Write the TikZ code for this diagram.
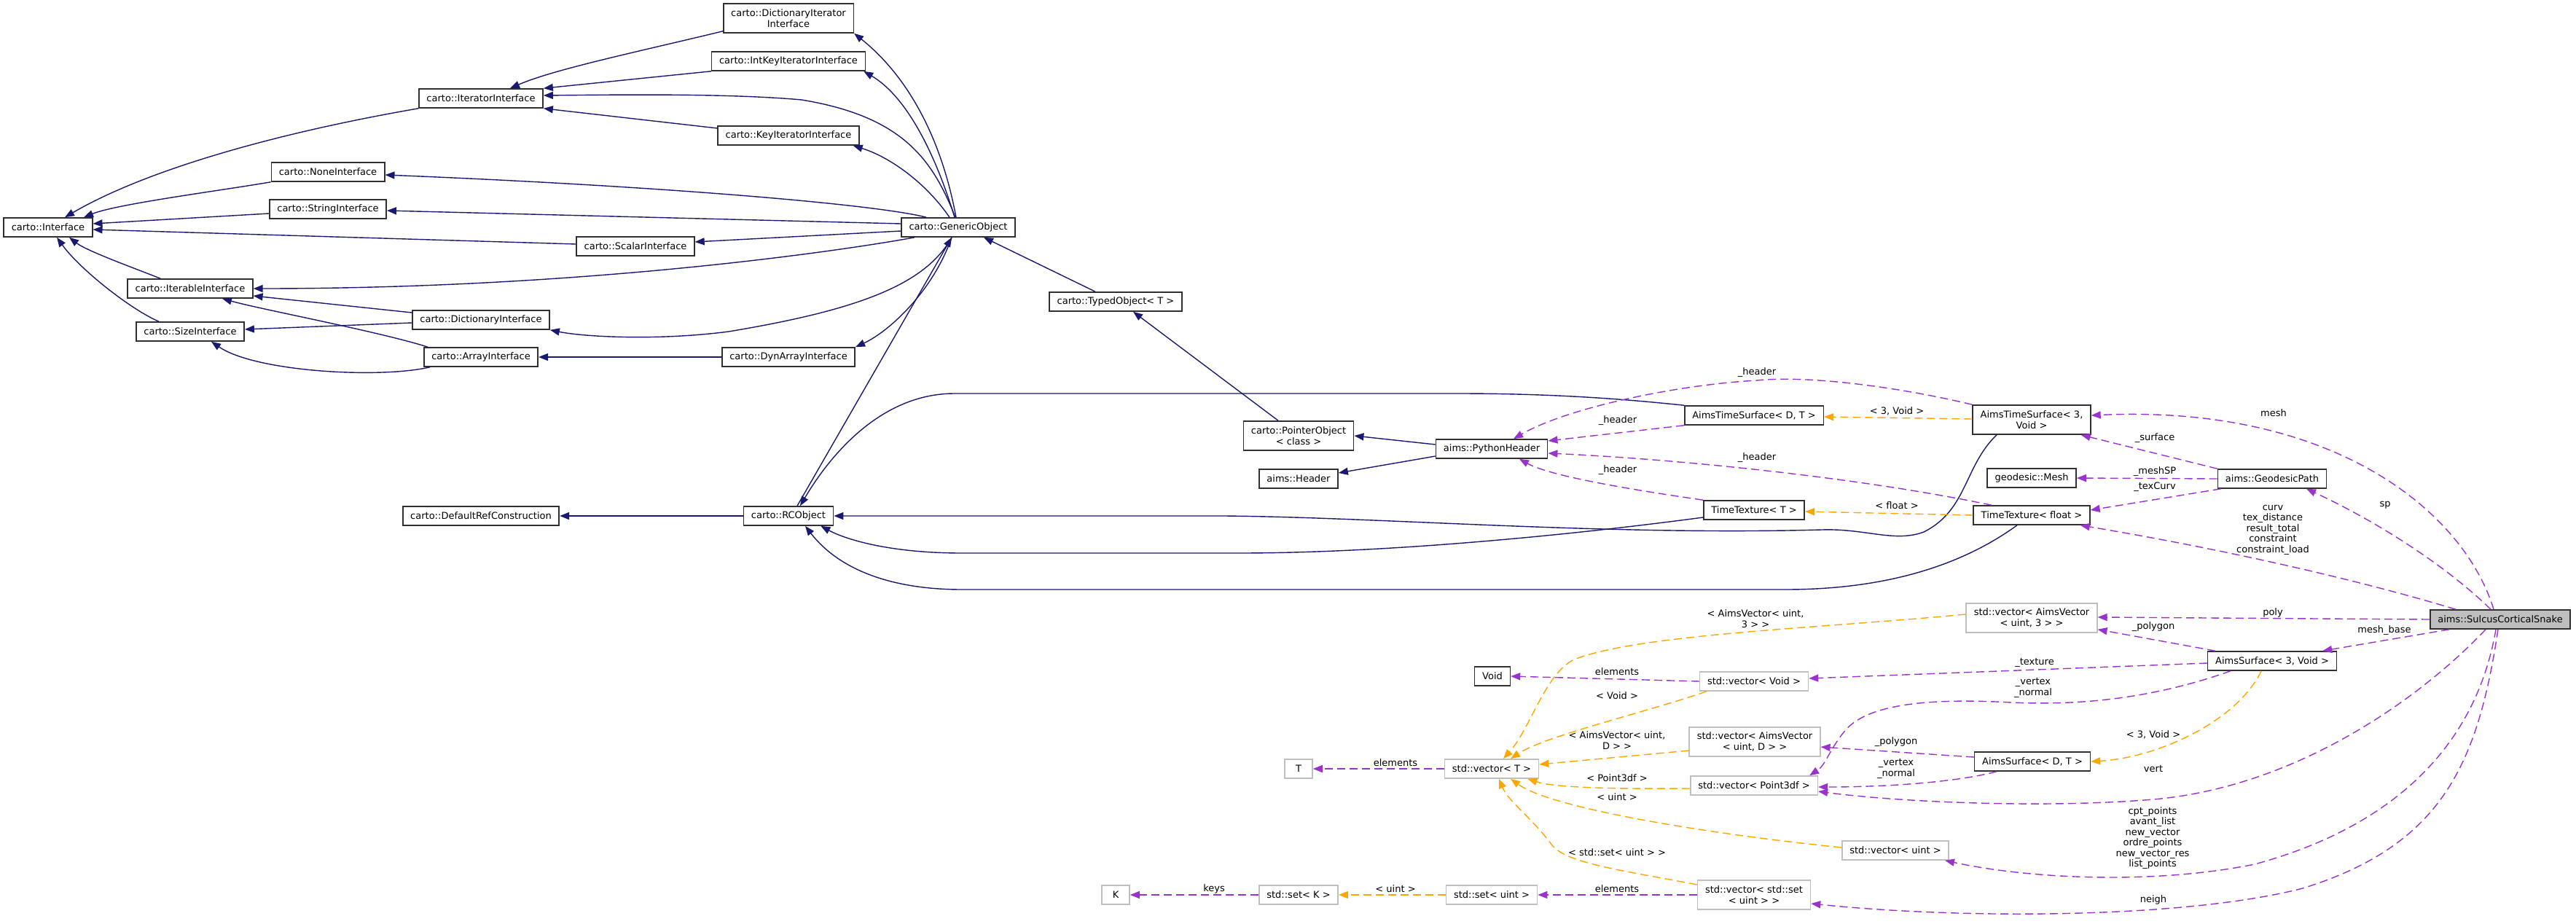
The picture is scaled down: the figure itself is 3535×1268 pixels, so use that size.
\documentclass[tikz,border=0pt]{standalone}
\usepackage{fontspec}
\setmainfont{DejaVu Sans}
\usetikzlibrary{arrows.meta}
\definecolor{inhblue}{HTML}{191970}
\definecolor{usepurple}{HTML}{9A32CD}
\definecolor{tplorange}{HTML}{FFA500}
\definecolor{extgray}{HTML}{BFBFBF}
\definecolor{snakefill}{HTML}{BFBFBF}
\definecolor{boxline}{HTML}{303030}
\tikzset{
  cls/.style={draw=boxline, fill=white, line width=1.6pt, inner xsep=10.5pt, inner ysep=0pt,
    minimum height=26pt, align=center, font=\fontsize{13pt}{14.5pt}\selectfont},
  ext/.style={cls, draw=extgray},
  twoline/.style={minimum height=40pt},
  lbl/.style={inner sep=0pt, align=center, font=\fontsize{13pt}{14.5pt}\selectfont},
  tipstyle/.style={-{Triangle[length=13pt,width=10pt]}},
  inh/.style={draw=inhblue, line width=1.4pt, tipstyle},
  use/.style={draw=usepurple, line width=1.4pt, dash pattern=on 11pt off 6pt, tipstyle},
  tpl/.style={draw=tplorange, line width=1.4pt, dash pattern=on 11pt off 6pt, tipstyle}
}
\begin{document}
\begin{tikzpicture}[x=1pt,y=-1pt]
\useasboundingbox (0,0) rectangle (3535,1268);

% ---------- nodes ----------
\node[cls] (iface) at (66,312) {carto::Interface};
\node[cls] (iter) at (660,135) {carto::IteratorInterface};
\node[cls] (none) at (450,236) {carto::NoneInterface};
\node[cls] (string) at (450,287) {carto::StringInterface};
\node[cls] (scalar) at (872,338) {carto::ScalarInterface};
\node[cls] (iterable) at (261,396) {carto::IterableInterface};
\node[cls] (size) at (261,455) {carto::SizeInterface};
\node[cls] (dict) at (660,439) {carto::DictionaryInterface};
\node[cls] (array) at (660,490) {carto::ArrayInterface};
\node[cls,twoline] (dictiter) at (1082,25) {carto::DictionaryIterator\\Interface};
\node[cls] (intkey) at (1082,84) {carto::IntKeyIteratorInterface};
\node[cls] (keyiter) at (1082,186) {carto::KeyIteratorInterface};
\node[cls] (dynarray) at (1082,490) {carto::DynArrayInterface};
\node[cls] (generic) at (1315,312) {carto::GenericObject};
\node[cls] (typed) at (1531,414) {carto::TypedObject< T >};
\node[cls,twoline] (pointer) at (1782,598) {carto::PointerObject\\< class >};
\node[cls] (header) at (1782,657) {aims::Header};
\node[cls] (python) at (2047,616) {aims::PythonHeader};
\node[cls] (default) at (660,708) {carto::DefaultRefConstruction};
\node[cls] (rc) at (1082,708) {carto::RCObject};
\node[cls] (atsdt) at (2407,570) {AimsTimeSurface< D, T >};
\node[cls] (ttt) at (2407,700) {TimeTexture< T >};
\node[cls,twoline] (ats3v) at (2788,576) {AimsTimeSurface< 3,\\Void >};
\node[cls] (gmesh) at (2788,656) {geodesic::Mesh};
\node[cls] (ttf) at (2788,707) {TimeTexture< float >};
\node[cls] (gpath) at (3118,657) {aims::GeodesicPath};
\node[cls, fill=snakefill] (snake) at (3431,850) {aims::SulcusCorticalSnake};
\node[ext,twoline] (va3) at (2788,848) {std::vector< AimsVector\\< uint, 3 > >};
\node[cls] (as3v) at (3118,907) {AimsSurface< 3, Void >};
\node[cls] (void) at (2048,928) {Void};
\node[ext] (vvoid) at (2407,935) {std::vector< Void >};
\node[ext,twoline] (vaD) at (2408,1018) {std::vector< AimsVector\\< uint, D > >};
\node[ext, minimum width=38pt] (T) at (1782,1055) {T};
\node[ext] (vT) at (2047,1055) {std::vector< T >};
\node[cls] (asdt) at (2789,1045) {AimsSurface< D, T >};
\node[ext] (vp3) at (2407,1078) {std::vector< Point3df >};
\node[ext] (vuint) at (2601,1167) {std::vector< uint >};
\node[ext, minimum width=38pt] (K) at (1531,1228) {K};
\node[ext] (setK) at (1782,1228) {std::set< K >};
\node[ext] (setuint) at (2047,1228) {std::set< uint >};
\node[ext,twoline] (vset) at (2407,1228) {std::vector< std::set\\< uint > >};

% ---------- inheritance (blue) ----------
\draw[inh] (iter.south west) .. controls (376,183) and (199,234) .. ([xshift=23pt]iface.north);
\draw[inh] (none.south west) .. controls (300,262) and (160,280) .. ([xshift=49pt]iface.north);
\draw[inh] ([yshift=-6pt]string.west) -- ([yshift=5pt]iface.east);
\draw[inh] ([yshift=3pt]scalar.west) -- ([yshift=-3pt]iface.east);
\draw[inh] ([xshift=-41pt]iterable.north) .. controls (190,370) and (120,345) .. ([xshift=29pt]iface.south);
\draw[inh] ([xshift=-43pt]size.north) .. controls (180,425) and (110,370) .. ([xshift=12pt]iface.south);
\draw[inh] ([yshift=3pt]dictiter.south west) .. controls (880,70) and (760,95) .. ([xshift=40pt]iter.north);
\draw[inh] (intkey.south west) -- (iter.north east);
\draw[inh] ([xshift=-4pt]generic.north) .. controls (1280,220) and (1240,160) .. (1100,137) .. controls (1000,128) and (850,130) .. ([yshift=4pt]iter.east);
\draw[inh] ([yshift=10pt]keyiter.west) -- (iter.south east);
\draw[inh] ([xshift=-3pt]generic.north) .. controls (1290,180) and (1240,100) .. (dictiter.south east);
\draw[inh] ([xshift=-5pt]generic.north) .. controls (1280,200) and (1240,130) .. ([xshift=-3pt]intkey.south east);
\draw[inh] ([xshift=-12pt]generic.north) .. controls (1270,250) and (1220,215) .. ([xshift=-9pt]keyiter.south east);
\draw[inh] ([xshift=-44pt]generic.north) .. controls (1200,280) and (900,255) .. ([yshift=-4pt]none.east);
\draw[inh] ([yshift=5pt]generic.west) -- ([yshift=-2pt]string.east);
\draw[inh] ([yshift=-5pt]generic.west) -- ([yshift=6pt]scalar.east);
\draw[inh] ([xshift=-60pt]generic.south) .. controls (1150,345) and (800,396) .. (iterable.east);
\draw[inh] ([yshift=10pt]dict.west) -- ([yshift=-10pt]iterable.east);
\draw[inh] ([xshift=-73pt]array.north) .. controls (520,455) and (360,425) .. ([xshift=44pt]iterable.south);
\draw[inh] ([yshift=-4pt]dict.west) -- ([yshift=3pt]size.east);
\draw[inh] ([xshift=-70pt]array.south) .. controls (520,520) and (350,510) .. ([xshift=29pt]size.south);
\draw[inh] ([xshift=-9pt]generic.south) .. controls (1270,390) and (1180,425) .. (1000,455) .. controls (900,468) and (800,462) .. (dict.south east);
\draw[inh] (dynarray.west) -- (array.east);
\draw[inh] ([xshift=-9pt]generic.south) .. controls (1280,400) and (1220,455) .. (dynarray.north east);
\draw[inh] ([xshift=-28pt]typed.north) -- ([xshift=35pt]generic.south);
\draw[inh] ([xshift=-28pt]pointer.north) -- ([xshift=24pt]typed.south);
\draw[inh] ([xshift=12pt]rc.north) -- ([xshift=-9pt]generic.south);
\draw[inh] (atsdt.north west) .. controls (2250,550) and (2150,540) .. (2000,540) -- (1310,540) .. controls (1200,540) and (1130,640) .. ([xshift=16pt]rc.north);
\draw[inh] (rc.west) -- (default.east);
\draw[inh] ([xshift=-48pt]ats3v.south) .. controls (2695,640) and (2700,700) .. (2640,730) .. controls (2600,745) and (2560,725) .. (2500,727) .. controls (2200,735) and (1900,710) .. (1680,708) -- (rc.east);
\draw[inh] ([yshift=-10pt]ttt.west) .. controls (2150,735) and (1900,759) .. (1700,759) -- (1320,759) .. controls (1220,759) and (1160,740) .. ([xshift=-18pt]rc.south east);
\draw[inh] ([xshift=-20pt]ttf.south) .. controls (2700,770) and (2600,809) .. (2450,809) -- (1320,809) .. controls (1220,809) and (1150,780) .. ([xshift=23pt]rc.south);
\draw[inh] ([yshift=6pt]python.west) -- (pointer.east);
\draw[inh] ([yshift=-10pt]python.west) -- ([yshift=8pt]header.east);

% ---------- usage (purple, dashed) ----------
\draw[use] (ats3v.north west) .. controls (2600,530) and (2480,515) .. (2411,522) .. controls (2300,528) and (2150,560) .. ([xshift=30pt]python.north);
\node[lbl] (lhdr1) at (2411,511) {\_header};
\draw[use] (atsdt.south west) -- ([yshift=11pt]python.east);
\node[lbl] (lhdr2) at (2220,577) {\_header};
\draw[use] ([xshift=-55pt]ttf.north) .. controls (2550,655) and (2300,630) .. ([yshift=-6pt]python.east);
\node[lbl] (lhdr3) at (2411,628) {\_header};
\draw[use] (ttt.north west) .. controls (2260,675) and (2130,655) .. ([xshift=38pt]python.south);
\node[lbl] (lhdr4) at (2220,645) {\_header};
\draw[use] (gpath.north west) -- ([xshift=-14pt]ats3v.south east);
\node[lbl] (lsurf) at (2957,601) {\_surface};
\draw[use] (gpath.west) -- (gmesh.east);
\node[lbl] (lmsp) at (2957,647) {\_meshSP};
\draw[use] ([xshift=5pt]gpath.south west) -- ([yshift=7pt]ttf.east);
\node[lbl] (ltcv) at (2957,668) {\_texCurv};
\draw[use] ([xshift=-9pt]snake.north) .. controls (3380,700) and (3200,555) .. ([yshift=6pt]ats3v.east);
\node[lbl] (lmesh) at (3120,567) {mesh};
\draw[use] ([xshift=-13pt]snake.north) .. controls (3350,770) and (3250,710) .. ([xshift=47pt]gpath.south);
\node[lbl] (lsp) at (3273,693) {sp};
\draw[use] ([xshift=-61pt]snake.north) .. controls (3200,785) and (3000,745) .. ([xshift=-14pt]ttf.south east);
\node[lbl] (lcurv) at (3119,727) {curv\\tex\_distance\\result\_total\\constraint\\constraint\_load};
\draw[use] (snake.west) -- ([yshift=1pt]va3.east);
\node[lbl] (lpoly) at (3119,841) {poly};
\draw[use] ([xshift=-70pt]snake.south) -- ([xshift=-20pt]as3v.north east);
\node[lbl] (lmb) at (3272,865) {mesh\_base};
\draw[use] ([xshift=-20pt]snake.south) .. controls (3320,960) and (3150,1080) .. (2955,1097) .. controls (2800,1110) and (2600,1100) .. ([yshift=-8pt]vp3.east);
\node[lbl] (lvert) at (2955,1055) {vert};
\draw[use] ([xshift=-6pt]snake.south) .. controls (3400,1010) and (3300,1130) .. (3094,1186) .. controls (2950,1215) and (2780,1205) .. ([xshift=-6pt]vuint.south east);
\node[lbl] (lcpt) at (2954,1150) {cpt\_points\\avant\_list\\new\_vector\\ordre\_points\\new\_vector\_res\\list\_points};
\draw[use] ([xshift=-3pt]snake.south) .. controls (3400,1050) and (3350,1160) .. (3160,1219) .. controls (3000,1260) and (2700,1262) .. ([yshift=-12pt]vset.east);
\node[lbl] (lneigh) at (2955,1235) {neigh};
\draw[use] ([xshift=-78pt]as3v.north) -- ([yshift=5pt]va3.south east);
\node[lbl] (lpoly2) at (2955,860) {\_polygon};
\draw[use] ([yshift=-3pt]as3v.west) -- ([yshift=4pt]vvoid.east);
\node[lbl] (ltex) at (2792,909) {\_texture};
\draw[use] ([xshift=-57pt]as3v.south) .. controls (2950,960) and (2850,968) .. (2760,964) .. controls (2650,958) and (2560,965) .. (2530,1005) .. controls (2510,1030) and (2505,1050) .. ([xshift=-12pt]vp3.north east);
\node[lbl] (lvn1) at (2790,944) {\_vertex\\\_normal};
\draw[use] ([yshift=6pt]asdt.west) -- ([yshift=-7pt]vaD.east);
\node[lbl] (lpoly3) at (2602,1018) {\_polygon};
\draw[use] ([xshift=-49pt]asdt.south) .. controls (2690,1072) and (2600,1080) .. ([yshift=-2pt]vp3.east);
\node[lbl] (lvn2) at (2602,1055) {\_vertex\\\_normal};
\draw[use] (vvoid.west) -- (void.east);
\node[lbl] (lel1) at (2219,922) {elements};
\draw[use] (vT.west) -- (T.east);
\node[lbl] (lel2) at (1915,1047) {elements};
\draw[use] (vset.west) -- (setuint.east);
\node[lbl] (lel3) at (2219,1220) {elements};
\draw[use] (setK.west) -- (K.east);
\node[lbl] (lkeys) at (1666,1220) {keys};

% ---------- template instances (orange, dashed) ----------
\draw[tpl] ([yshift=1pt]ats3v.west) -- ([yshift=-2pt]atsdt.east);
\node[lbl] (l3v1) at (2603,564) {< 3, Void >};
\draw[tpl] (ttf.west) -- ([yshift=-2pt]ttt.east);
\node[lbl] (lflt) at (2603,694) {< float >};
\draw[tpl] ([xshift=-15pt]as3v.south) .. controls (3070,990) and (2960,1040) .. (asdt.east);
\node[lbl] (l3v2) at (2955,1008) {< 3, Void >};
\draw[tpl] ([yshift=5pt]va3.west) .. controls (2500,862) and (2250,870) .. (2160,905) .. controls (2120,925) and (2100,1000) .. ([xshift=16pt]vT.north);
\node[lbl] (lav3) at (2409,849) {< AimsVector< uint,\\3 > >};
\draw[tpl] ([xshift=-65pt]vvoid.south) .. controls (2250,980) and (2120,1010) .. ([xshift=26pt]vT.north);
\node[lbl] (lvoid) at (2219,955) {< Void >};
\draw[tpl] ([yshift=-12pt]vaD.west) -- ([yshift=6pt]vT.east);
\node[lbl] (lavD) at (2219,1016) {< AimsVector< uint,\\D > >};
\draw[tpl] ([yshift=-4pt]vp3.west) .. controls (2200,1083) and (2130,1080) .. ([xshift=-16pt]vT.south east);
\node[lbl] (lp3) at (2219,1068) {< Point3df >};
\draw[tpl] ([yshift=4pt]vuint.west) .. controls (2350,1145) and (2130,1110) .. ([xshift=26pt]vT.south);
\node[lbl] (luint1) at (2219,1094) {< uint >};
\draw[tpl] ([yshift=14pt]vset.west) .. controls (2230,1195) and (2150,1185) .. (2130,1160) .. controls (2100,1120) and (2070,1100) .. ([xshift=10pt]vT.south);
\node[lbl] (lsetu) at (2219,1170) {< std::set< uint > >};
\draw[tpl] (setuint.west) -- (setK.east);
\node[lbl] (luint2) at (1915,1220) {< uint >};
\end{tikzpicture}
\end{document}
